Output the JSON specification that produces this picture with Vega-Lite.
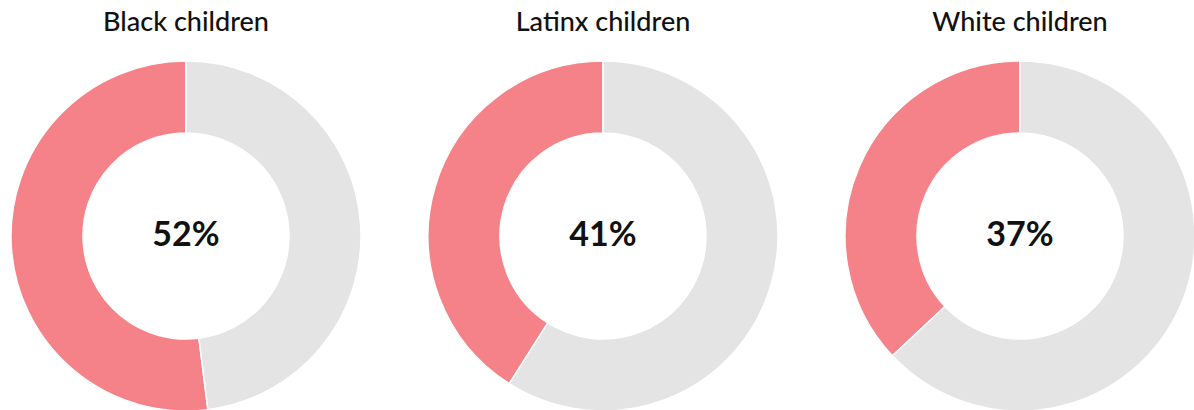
{
  "$schema": "https://vega.github.io/schema/vega-lite/v6.json",
  "background": "white",
  "padding": {"left": 8, "top": 9, "right": 0, "bottom": 0},
  "data": {"values": [
    {"group": "Black children", "g": 1, "cat": "share", "value": 52, "o": 2, "label": "52%"},
    {"group": "Black children", "g": 1, "cat": "rest", "value": 48, "o": 1, "label": "52%"},
    {"group": "Latinx children", "g": 2, "cat": "share", "value": 41, "o": 2, "label": "41%"},
    {"group": "Latinx children", "g": 2, "cat": "rest", "value": 59, "o": 1, "label": "41%"},
    {"group": "White children", "g": 3, "cat": "share", "value": 37, "o": 2, "label": "37%"},
    {"group": "White children", "g": 3, "cat": "rest", "value": 63, "o": 1, "label": "37%"}
  ]},
  "facet": {
    "column": {
      "field": "group",
      "type": "nominal",
      "sort": ["Black children", "Latinx children", "White children"],
      "title": null,
      "header": {"labelFont": "Lato", "labelFontSize": 27, "labelFontWeight": 500, "labelColor": "#111111", "labelPadding": 21, "labelOrient": "top"}
    }
  },
  "spacing": 61,
  "spec": {
    "width": 350,
    "height": 350,
    "layer": [
      {
        "mark": {"type": "arc", "radius": 175, "radius2": 103, "stroke": "white", "strokeWidth": 1.5},
        "encoding": {
          "theta": {"field": "value", "type": "quantitative", "stack": true},
          "order": {"field": "o", "type": "quantitative"},
          "color": {"field": "cat", "type": "nominal", "scale": {"domain": ["share", "rest"], "range": ["#F58288", "#E4E4E4"]}, "legend": null}
        }
      },
      {
        "transform": [{"filter": "datum.cat == 'share'"}],
        "mark": {"type": "text", "font": "Lato", "fontSize": 34, "fontWeight": "bold", "color": "#111111", "baseline": "middle", "align": "center"},
        "encoding": {"text": {"field": "label"}}
      }
    ]
  },
  "config": {"view": {"stroke": null}}
}
